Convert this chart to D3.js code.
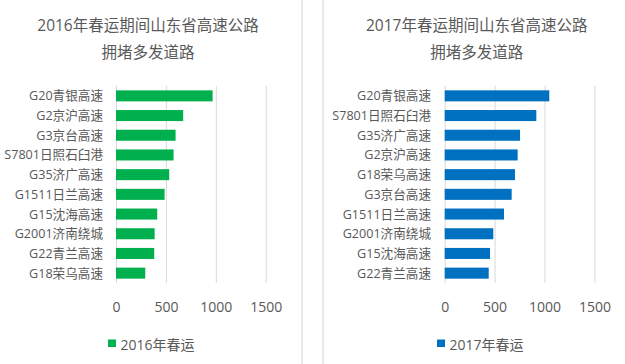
<!DOCTYPE html>
<html>
<head>
<meta charset="utf-8">
<script src="https://cdn.jsdelivr.net/npm/d3@7/dist/d3.min.js"></script>
<style>
  html, body { margin: 0; padding: 0; background: #fff; }
  svg { display: block; }
  text { font-family: "Open Sans", "Noto Sans CJK SC", sans-serif; fill: #595959; }
</style>
</head>
<body>
<svg id="chart" width="625" height="364"></svg>
<script>
// ---- Data ----
const categories2016 = ["G20青银高速", "G2京沪高速", "G3京台高速", "S7801日照石臼港", "G35济广高速",
  "G1511日兰高速", "G15沈海高速", "G2001济南绕城", "G22青兰高速", "G18荣乌高速"];
const values2016 = [968, 673, 597, 577, 533, 487, 413, 387, 383, 293];

const categories2017 = ["G20青银高速", "S7801日照石臼港", "G35济广高速", "G2京沪高速", "G18荣乌高速",
  "G3京台高速", "G1511日兰高速", "G2001济南绕城", "G15沈海高速", "G22青兰高速"];
const values2017 = [1048, 918, 755, 731, 704, 671, 594, 487, 454, 441];

const tickValues = [0, 500, 1000, 1500];
const titles2016 = ["2016年春运期间山东省高速公路", "拥堵多发道路"];
const titles2017 = ["2017年春运期间山东省高速公路", "拥堵多发道路"];
const legend2016 = "2016年春运";
const legend2017 = "2017年春运";

const svg = d3.select("#chart");

// separators (panel borders)
[302, 323].forEach(x => {
  svg.append("line").attr("x1", x).attr("x2", x).attr("y1", 0).attr("y2", 364)
    .attr("stroke", "#e2e2e2").attr("stroke-width", 1.5);
});

function drawPanel(cfg) {
  const g = svg.append("g");
  const x = d3.scaleLinear().domain([0, 1500]).range([cfg.x0, cfg.x0 + 149.7]);
  const y = d3.scaleBand().domain(cfg.categories).range([86, 283]).paddingInner(0.44).paddingOuter(0.22);

  // title
  cfg.titles.forEach((t, i) => {
    g.append("text").attr("x", cfg.titleX).attr("y", 25 + i * 26.7)
      .attr("text-anchor", "middle").attr("dominant-baseline", "central")
      .style("font-size", "15.5px").text(t);
  });

  // gridlines
  const grid = d3.axisBottom(x).tickValues(tickValues).tickSize(-(283 - 86)).tickFormat("");
  const gg = g.append("g").attr("transform", "translate(0,283)").call(grid);
  gg.select(".domain").remove();
  gg.selectAll("line").attr("stroke", "#d9d9d9").attr("stroke-width", 1);

  // bars
  g.selectAll("rect.bar").data(cfg.values).enter().append("rect")
    .attr("class", "bar")
    .attr("x", x(0))
    .attr("y", (d, i) => y(cfg.categories[i]))
    .attr("width", d => x(d) - x(0))
    .attr("height", y.bandwidth())
    .attr("fill", cfg.color);

  // category labels
  const ya = d3.axisLeft(y).tickSize(0).tickPadding(0);
  const yg = g.append("g").attr("transform", `translate(${cfg.labelX},0)`).call(ya);
  yg.select(".domain").remove();
  yg.selectAll("text").attr("x", 0).attr("dy", null).attr("dominant-baseline", "central")
    .style("font-size", "12.6px").style("fill", "#595959").attr("font-family", null);

  // x tick labels
  const xa = d3.axisBottom(x).tickValues(tickValues).tickSize(0).tickPadding(0).tickFormat(d3.format("d"));
  const xg = g.append("g").attr("transform", "translate(0,306)").call(xa);
  xg.select(".domain").remove();
  xg.selectAll("text").attr("y", 0).attr("dy", null).attr("dominant-baseline", "central")
    .style("font-size", "14px").style("fill", "#595959").attr("font-family", null);

  // legend
  g.append("rect").attr("x", cfg.legendX).attr("y", 339.5).attr("width", 8).attr("height", 7.5)
    .attr("fill", cfg.color);
  g.append("text").attr("x", cfg.legendX + 12.5).attr("y", 344)
    .attr("dominant-baseline", "central").style("font-size", "14px").text(cfg.legend);
}

drawPanel({
  categories: categories2016, values: values2016, titles: titles2016, legend: legend2016,
  color: "#00b04f", x0: 116, labelX: 103, titleX: 148, legendX: 108
});
drawPanel({
  categories: categories2017, values: values2017, titles: titles2017, legend: legend2017,
  color: "#0070c0", x0: 444.7, labelX: 431, titleX: 476.7, legendX: 437
});
</script>
</body>
</html>
